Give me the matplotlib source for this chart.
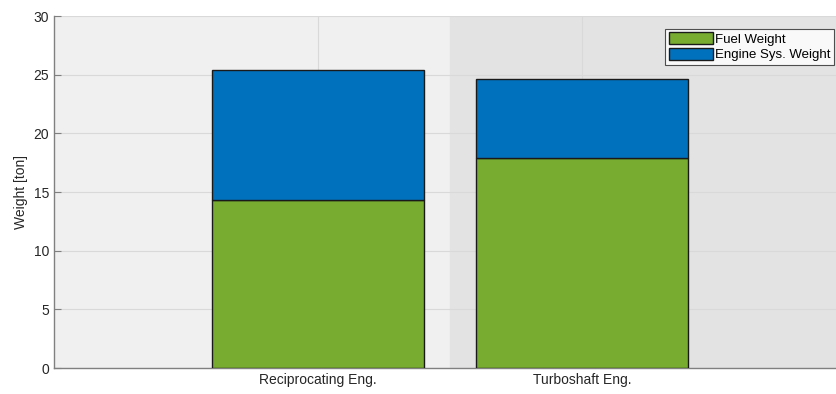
import numpy as np
import matplotlib.pyplot as plt

plt.rcParams['font.family'] = ['Liberation Sans', 'DejaVu Sans']

categories = ["Reciprocating Eng.", "Turboshaft Eng."]
fuel_weight = [14.3, 17.9]
engine_weight = [11.1, 6.7]

green = "#77ac30"
blue = "#0072bd"

fig = plt.figure(figsize=(8.36, 3.94), dpi=100)
ax = fig.add_axes([54 / 836, 26 / 394, 782 / 836, 352 / 394])

x = np.arange(1, len(categories) + 1)
x_max = 782 / 264
ax.set_facecolor("#f0f0f0")
ax.axvspan(1.5, x_max, color="#e3e3e3", zorder=0)

ax.bar(x, fuel_weight, width=0.8, color=green, edgecolor="#1a1a1a",
       linewidth=1.0, label="Fuel Weight", zorder=3)
ax.bar(x, engine_weight, width=0.8, bottom=fuel_weight, color=blue,
       edgecolor="#1a1a1a", linewidth=1.0, label="Engine Sys. Weight", zorder=3)

ax.set_xlim(0, x_max)
ax.set_ylim(0, 30)
ax.set_xticks(x)
ax.set_xticklabels(categories)
ax.set_yticks(np.arange(0, 31, 5))
ax.grid(True, color="#d9d9d9", linewidth=0.8, zorder=1)
ax.set_axisbelow(True)

for side in ("top", "right"):
    ax.spines[side].set_visible(False)
for side in ("left", "bottom"):
    ax.spines[side].set_color("#808080")
    ax.spines[side].set_linewidth(1.0)

ax.tick_params(direction="in", length=5, colors="#808080", labelcolor="#262626",
               labelsize=10)
ax.set_ylabel("Weight [ton]", fontsize=10, color="#262626")

leg = ax.legend(loc="upper right", bbox_to_anchor=(1.0, 0.97), fontsize=9.5,
                frameon=True, fancybox=False, edgecolor="#262626",
                borderpad=0.3, handlelength=3.3, handleheight=1.0,
                handletextpad=0.15, labelspacing=0.15, borderaxespad=0.15)
leg.get_frame().set_linewidth(0.8)

fig.savefig("out.png", dpi=100)
